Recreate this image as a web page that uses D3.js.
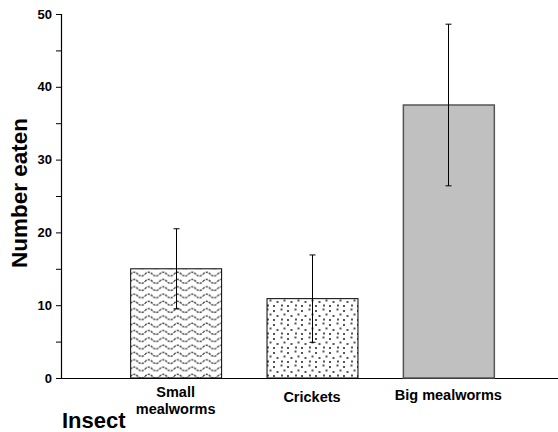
<!DOCTYPE html>
<html>
<head>
<meta charset="utf-8">
<script src="https://cdn.jsdelivr.net/npm/d3@7"></script>
<style>
  body { margin: 0; background: #fff; }
  svg { display: block; }
  text { font-family: "Liberation Sans", Arial, sans-serif; font-weight: bold; fill: #000; }
</style>
</head>
<body>
<div class="chart"></div>
<script>
// Data
const categories = ['Small mealworms', 'Crickets', 'Big mealworms'];
const categoryLines = [['Small', 'mealworms'], ['Crickets'], ['Big mealworms']];
const means = [15.0, 10.9, 37.5];
const errors = [5.5, 6.0, 11.1];
const yTicks = [0, 10, 20, 30, 40, 50];
const yMinorTicks = [5, 15, 25, 35, 45];

const W = 558, H = 432;

const svg = d3.select('.chart').append('svg')
    .attr('width', W)
    .attr('height', H);

// Patterns for the bar fills
const defs = svg.append('defs');

const wave = defs.append('pattern')
    .attr('id', 'wave')
    .attr('patternUnits', 'userSpaceOnUse')
    .attr('width', 14.5)
    .attr('height', 7.3);
wave.append('rect').attr('width', 14.5).attr('height', 7.3).attr('fill', '#fff');
wave.append('path')
    .attr('d', 'M0,4 C2.4,1.5 4.8,1.5 7.25,4 C9.7,6.5 12.1,6.5 14.5,4')
    .attr('fill', 'none')
    .attr('stroke', '#444')
    .attr('stroke-width', 1.4)
    .attr('stroke-dasharray', '2.2,1');

const dots = defs.append('pattern')
    .attr('id', 'dots')
    .attr('patternUnits', 'userSpaceOnUse')
    .attr('width', 14)
    .attr('height', 14);
dots.append('rect').attr('width', 14).attr('height', 14).attr('fill', '#fff');
[[1.5, 1.5], [8, 3], [4.5, 6.5], [11.5, 8], [2, 11.5], [8, 12]].forEach(p => {
    dots.append('rect')
        .attr('x', p[0] - 1).attr('y', p[1] - 1)
        .attr('width', 2).attr('height', 2)
        .attr('fill', '#555');
});

const fills = ['url(#wave)', 'url(#dots)', '#c0c0c0'];
const borders = ['#000', '#000', '#555'];

// Scales
const x = d3.scaleBand()
    .domain(categories)
    .range([62, 562])
    .paddingInner(0.333)
    .paddingOuter(0.5);

const y = d3.scaleLinear()
    .domain([0, 50])
    .range([378, 14]);

// Y axis
const yAxis = svg.append('g')
    .attr('transform', 'translate(61,0)')
    .call(d3.axisLeft(y).tickValues(yTicks).tickSize(5).tickPadding(4).tickFormat(d3.format('d')));
yAxis.select('.domain').attr('stroke', '#000').attr('stroke-width', 1.2);
yAxis.selectAll('.tick line').attr('stroke', '#000');
yAxis.selectAll('.tick text')
    .attr('font-size', 13)
    .attr('font-family', '"Liberation Sans", Arial, sans-serif')
    .attr('font-weight', 'bold')
    .attr('fill', '#000');

svg.append('g')
    .selectAll('line')
    .data(yMinorTicks)
    .join('line')
    .attr('x1', 56).attr('x2', 61)
    .attr('y1', d => y(d) + 0.5).attr('y2', d => y(d) + 0.5)
    .attr('stroke', '#000');

// X axis line
svg.append('line')
    .attr('x1', 56).attr('x2', W)
    .attr('y1', y(0) + 0.5).attr('y2', y(0) + 0.5)
    .attr('stroke', '#000')
    .attr('stroke-width', 1.2);

// Bars
svg.append('g')
    .selectAll('rect')
    .data(categories)
    .join('rect')
    .attr('x', d => x(d) + 0.5)
    .attr('y', (d, i) => y(means[i]))
    .attr('width', x.bandwidth())
    .attr('height', (d, i) => y(0) - y(means[i]))
    .attr('fill', (d, i) => fills[i])
    .attr('stroke', (d, i) => borders[i])
    .attr('stroke-width', (d, i) => i === 2 ? 1.5 : 1);

// Error bars
const err = svg.append('g')
    .selectAll('g')
    .data(categories)
    .join('g')
    .attr('transform', d => `translate(${Math.round(x(d) + x.bandwidth() / 2) + 0.5},0)`);

err.append('line')
    .attr('y1', (d, i) => y(means[i] + errors[i]))
    .attr('y2', (d, i) => y(means[i] - errors[i]))
    .attr('stroke', '#000')
    .attr('stroke-width', 1);

err.append('line')
    .attr('x1', -3).attr('x2', 3)
    .attr('y1', (d, i) => y(means[i] + errors[i]))
    .attr('y2', (d, i) => y(means[i] + errors[i]))
    .attr('stroke', '#000');

err.append('line')
    .attr('x1', -3).attr('x2', 3)
    .attr('y1', (d, i) => y(means[i] - errors[i]))
    .attr('y2', (d, i) => y(means[i] - errors[i]))
    .attr('stroke', '#000');

// Category labels, one text per line
const labelBase = [397, 402, 400];
categories.forEach((d, i) => {
    categoryLines[i].forEach((line, j) => {
        svg.append('text')
            .attr('x', x(d) + x.bandwidth() / 2)
            .attr('y', labelBase[i] + j * 16.5)
            .attr('text-anchor', 'middle')
            .attr('font-size', 14.5)
            .text(line);
    });
});

// Axis titles
svg.append('text')
    .attr('transform', 'translate(27,193) rotate(-90)')
    .attr('text-anchor', 'middle')
    .attr('font-size', 22.5)
    .text('Number eaten');

svg.append('text')
    .attr('x', 62)
    .attr('y', 428)
    .attr('font-size', 22)
    .text('Insect');
</script>
</body>
</html>
